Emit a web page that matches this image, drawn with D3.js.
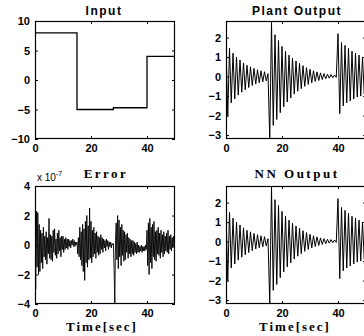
<!DOCTYPE html>
<html>
<head>
<meta charset="utf-8">
<script src="https://cdn.jsdelivr.net/npm/d3@7"></script>
<style>
  html, body { margin: 0; padding: 0; background: #fff; }
  svg { display: block; }
</style>
</head>
<body>
<div id="chart"></div>
<script>
// time axis shared by all four panels
const timeTicks = [0, 20, 40];

// reference input: piecewise constant, [start time, level]
const inputTimes = [0, 15, 28, 40, 50];
const inputLevels = [8, -5, -4.7, 4, 4];
const inputTicks = [-10, -5, 0, 5, 10];

// plant output, peaks / troughs, every 0.625 s
const outDt = 0.625;
const plantOut = [
  1.6, -2.0, 1.45, -1.35, 1.2, -1.15, 1.0, -0.95, 0.85, -0.8,
  0.7, -0.68, 0.58, -0.56, 0.5, -0.46, 0.42, -0.38, 0.35, -0.32,
  0.3, -0.27, 0.25, -0.22, 0.15, -3.2, 2.8, -2.5, 2.15, -2.2,
  1.85, -1.85, 1.55, -1.55, 1.3, -1.3, 1.1, -1.1, 0.95, -0.9,
  0.8, -0.75, 0.68, -0.62, 0.56, -0.5, 0.46, -0.4, 0.38, -0.32,
  0.3, -0.25, 0.24, -0.2, 0.19, -0.15, 0.15, -0.11, 0.12, -0.08,
  0.1, -0.06, 0.08, -0.04, 2.2, -1.9, 1.75, -1.5, 1.6, -1.35,
  1.45, -1.25, 1.3, -1.15, 1.2, -1.05, 1.1, -1.0, 1.0, -0.9,
  0.9
];
// NN output follows the plant to within 1e-7
const nnOut = [
  1.55, -2.0, 1.5, -1.35, 1.2, -1.15, 1.0, -0.95, 0.85, -0.8,
  0.7, -0.68, 0.58, -0.56, 0.5, -0.46, 0.42, -0.38, 0.35, -0.32,
  0.3, -0.27, 0.25, -0.22, 0.15, -3.2, 2.8, -2.5, 2.15, -2.2,
  1.85, -1.85, 1.55, -1.55, 1.3, -1.3, 1.1, -1.1, 0.95, -0.9,
  0.8, -0.75, 0.68, -0.62, 0.56, -0.5, 0.46, -0.4, 0.38, -0.32,
  0.3, -0.25, 0.24, -0.2, 0.19, -0.15, 0.15, -0.11, 0.12, -0.08,
  0.1, -0.06, 0.08, -0.04, 2.2, -1.9, 1.75, -1.5, 1.6, -1.35,
  1.45, -1.25, 1.3, -1.15, 1.2, -1.05, 1.1, -1.0, 1.0, -0.9,
  0.9
];
const outTicks = [-3, -2, -1, 0, 1, 2];

// identification error (units of 1e-7), every 0.25 s
const errDt = 0.25;
const errOut = [
  0, -3.0, 2.3, -1.5,   2.2, -2.0, 1.4, -1.8,   1.0, -1.2, 0.8, -1.6,
  1.2, -0.8, 0.6, -1.0,  0.9, -1.3, 0.5, -0.6,   1.8, -0.9, 0.7, -1.0,
  0.6, -1.1, 1.0, -0.5,  1.1, -0.7, 0.4, -0.9,   0.8, -0.6, 1.0, -0.4,
  0.5, -0.8, 0.6, -0.3,  0.6, -0.5, 0.4, -0.3,   0.5, -0.2, 0.4, -0.3,
  0.4, -0.1, 0.3, -0.2,  0.3, 0.0, 0.4, -0.1,    0.3, -0.1, 0.2, 0.0,
  0.2, -0.6, 0.5, -0.8,  1.2, -1.0, 0.9, -1.4,   1.4, -1.8, 1.1, -2.4,
  1.6, -1.2, 2.0, -1.5,  1.3, -1.0, 2.5, -0.9,   1.6, -1.2, 1.0, -0.8,
  1.2, -0.6, 0.8, -0.9,  0.9, -0.5, 0.6, -0.7,   0.5, -0.6, 0.7, -0.3,
  0.5, -0.5, 0.4, -0.2,  0.3, -0.4, 0.4, -0.1,   0.3, -0.3, 0.2, -0.1,
  0.2, -0.2, 0.1, 0.0,   0.1, -1.6, -4.0, 0.3,   1.5, -1.0, 2.0, -1.6,
  1.7, -0.8, 1.2, -1.4,  1.4, -0.7, 1.0, -1.1,   0.9, -1.0, 0.7, -0.5,
  0.8, -0.9, 0.5, -0.6,  0.4, -0.8, 0.3, -0.6,   0.3, -0.7, 0.2, -0.5,
  0.1, -0.6, 0.2, -0.5,  0.0, -0.5, -0.1, -0.4,  0.0, -0.5, -0.1, -0.4,
  -0.1, -0.4, 0.0, -0.3, 1.0, -1.4, 1.5, -2.0,   1.8, -1.2, 1.2, -1.6,
  1.4, -0.8, 1.6, -1.0,  0.9, -1.1, 1.0, -0.6,   1.2, -0.7, 0.8, -0.9,
  1.0, -0.5, 0.7, -0.8,  0.9, -0.6, 0.6, -0.4,   0.8, -0.5, 1.0, -0.6,
  0.6, -0.3, 0.7, -0.4,  0.5, -0.2, 0.6, -0.1,   0.3
];
const errTicks = [-4, -2, 0, 2, 4];

const width = 364;
const height = 336;
const sansFont = 'Liberation Sans, Arial, sans-serif';
const serifFont = 'Liberation Serif, Times New Roman, serif';

const svg = d3.select('#chart')
  .append('svg')
  .attr('width', width)
  .attr('height', height)
  .attr('xmlns', 'http://www.w3.org/2000/svg');

// draws one boxed MATLAB-style panel and returns its scales + group
function drawPanel(box, yDomain, yTicks) {
  const x = d3.scaleLinear().domain([0, 50]).range([box.left, box.left + 140]);
  const y = d3.scaleLinear().domain(yDomain).range([box.bottom, box.top]);
  const g = svg.append('g').attr('class', 'panel');
  const fmt = d3.format('d');

  const clipId = 'clip' + Math.round(box.left) + '_' + Math.round(box.top);
  svg.append('clipPath').attr('id', clipId)
    .append('rect')
    .attr('x', box.left).attr('y', box.top)
    .attr('width', 140).attr('height', box.bottom - box.top);

  const xAxis = d3.axisBottom(x).tickValues(timeTicks).tickFormat(fmt)
    .tickSizeInner(-3).tickSizeOuter(0).tickPadding(5);
  const yAxis = d3.axisLeft(y).tickValues(yTicks).tickFormat(fmt)
    .tickSizeInner(-3).tickSizeOuter(0).tickPadding(5);

  g.append('g')
    .attr('class', 'x-axis')
    .attr('transform', `translate(0, ${box.bottom})`)
    .call(xAxis);
  g.append('g')
    .attr('class', 'y-axis')
    .attr('transform', `translate(${box.left}, 0)`)
    .call(yAxis);
  // mirrored ticks on top and right edges
  g.append('g')
    .attr('transform', `translate(0, ${box.top})`)
    .call(d3.axisTop(x).tickValues(timeTicks).tickSizeInner(-3).tickSizeOuter(0).tickFormat(''));
  g.append('g')
    .attr('transform', `translate(${box.left + 140}, 0)`)
    .call(d3.axisRight(y).tickValues(yTicks).tickSizeInner(-3).tickSizeOuter(0).tickFormat(''));

  g.selectAll('.domain').attr('stroke', 'none');
  g.selectAll('.tick line').attr('stroke', '#000').attr('stroke-width', 1);
  g.selectAll('.tick text')
    .attr('font-family', sansFont)
    .attr('font-size', 11)
    .attr('font-weight', 'bold')
    .attr('fill', '#000');

  g.append('rect')
    .attr('x', box.left + 0.5)
    .attr('y', box.top + 0.5)
    .attr('width', 139)
    .attr('height', box.bottom - box.top - 1)
    .attr('fill', 'none')
    .attr('stroke', '#000')
    .attr('stroke-width', 1.2);

  const plot = g.append('g').attr('clip-path', `url(#${clipId})`);
  return { x, y, g, plot };
}

function drawSeries(panel, values, dt, strokeWidth) {
  const line = d3.line()
    .x((d, i) => panel.x(i * dt))
    .y(d => panel.y(d));
  panel.plot.append('path')
    .datum(values)
    .attr('d', line)
    .attr('fill', 'none')
    .attr('stroke', '#000')
    .attr('stroke-width', strokeWidth);
}

function drawTitle(text, cx, baseline, family, size, spacing) {
  svg.append('text')
    .attr('x', cx)
    .attr('y', baseline)
    .attr('text-anchor', 'middle')
    .attr('font-family', family)
    .attr('font-size', size)
    .attr('font-weight', 'bold')
    .attr('letter-spacing', spacing)
    .attr('fill', '#000')
    .text(text);
}

// Input
const pIn = drawPanel({ left: 35, top: 21, bottom: 139 }, [-10, 10], inputTicks);
const stepLine = d3.line()
  .curve(d3.curveStepAfter)
  .x((d, i) => pIn.x(inputTimes[i]))
  .y(d => pIn.y(d));
pIn.plot.append('path')
  .datum(inputLevels)
  .attr('d', stepLine)
  .attr('fill', 'none')
  .attr('stroke', '#000')
  .attr('stroke-width', 1.3);
drawTitle('Input', 104, 15, sansFont, 12, 1.5);

// Plant Output
const pPlant = drawPanel({ left: 226, top: 21, bottom: 139 }, [-3.2, 2.85], outTicks);
drawSeries(pPlant, plantOut, outDt, 1);
drawTitle('Plant Output', 297, 15, sansFont, 12, 1.5);

// Error
const pErr = drawPanel({ left: 35, top: 186, bottom: 304 }, [-4, 4], errTicks);
drawSeries(pErr, errOut, errDt, 0.9);
drawTitle('Error', 106, 178, serifFont, 13, 2.5);
const expLabel = svg.append('text')
  .attr('x', 37)
  .attr('y', 181)
  .attr('font-family', sansFont)
  .attr('font-size', 10)
  .attr('fill', '#000');
expLabel.append('tspan').text('x 10');
expLabel.append('tspan')
  .attr('dy', -5)
  .attr('font-size', 7)
  .text('-7');

// NN Output
const pNN = drawPanel({ left: 226, top: 186, bottom: 304 }, [-3.2, 2.85], outTicks);
drawSeries(pNN, nnOut, outDt, 1);
drawTitle('NN Output', 297, 178, serifFont, 13, 2.5);

drawTitle('Time[sec]', 102, 331, serifFont, 13, 2);
drawTitle('Time[sec]', 295, 331, serifFont, 13, 2);
</script>
</body>
</html>
